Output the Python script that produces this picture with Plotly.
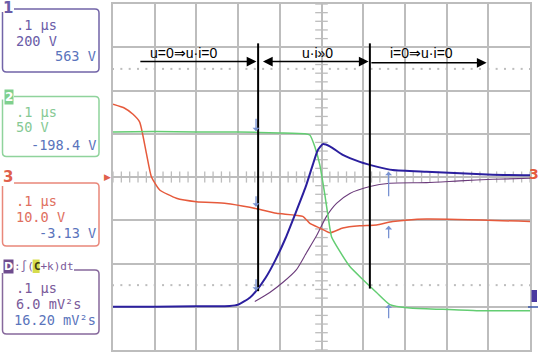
import plotly.graph_objects as go
import numpy as np

# ---------------- data (time in µs, amplitude in screen divisions) ----------------
t_ch1 = [-0.50, -0.40, -0.30, -0.22, -0.20, -0.172, -0.158, -0.134, -0.110, -0.086, -0.062,
         -0.038, -0.021, -0.009, 0.003, 0.020, 0.051, 0.092, 0.132, 0.171, 0.252, 0.332,
         0.411, 0.50]
v_ch1 = [-3.00, -3.00, -2.99, -2.98, -2.95, -2.79, -2.65, -2.33, -1.91, -1.41, -0.83,
         -0.23, 0.28, 0.62, 0.76, 0.71, 0.51, 0.35, 0.24, 0.16, 0.12, 0.085, 0.05, 0.04]

t_ch2 = [-0.50, -0.40, -0.30, -0.20, -0.10, -0.04, -0.028, -0.016, -0.004, 0.008, 0.020,
         0.024, 0.044, 0.068, 0.099, 0.132, 0.164, 0.212, 0.291, 0.372, 0.50]
v_ch2 = [1.04, 1.05, 1.04, 1.04, 1.02, 1.00, 0.97, 0.70, 0.28, -0.41, -1.18,
         -1.38, -1.72, -2.07, -2.37, -2.67, -2.95, -3.03, -3.06, -3.09, -3.09]

t_ch3 = [-0.50, -0.472, -0.452, -0.436, -0.420, -0.408, -0.388, -0.348, -0.300, -0.228,
         -0.172, -0.153, -0.108, -0.045, -0.028, -0.004, 0.020, 0.051, 0.092, 0.132,
         0.171, 0.252, 0.50]
v_ch3 = [1.68, 1.59, 1.45, 1.27, 0.55, 0.007, -0.30, -0.49, -0.57, -0.61,
         -0.70, -0.74, -0.84, -0.91, -1.07, -1.18, -1.29, -1.18, -1.13, -1.11,
         -1.03, -0.97, -1.03]

t_math = [-0.160, -0.124, -0.093, -0.060, -0.036, -0.012, 0.012, 0.036, 0.068, 0.116,
          0.164, 0.252, 0.331, 0.411, 0.50]
v_math = [-2.88, -2.67, -2.44, -2.14, -1.75, -1.36, -0.91, -0.61, -0.38, -0.22,
          -0.145, -0.13, -0.09, -0.053, -0.03]

cursor_t = [-0.152, 0.116]
cursor_top = 3.09
cursor_bottom = [-2.64, -2.58]

region_labels = ["u=0⇒u·i=0", "u·i»0", "i=0⇒u·i=0"]
region_label_t = [-0.332, -0.009, 0.240]

ch_boxes = [
    ("1", [".1 µs", "200 V"], "563 V"),
    ("2", [".1 µs", "50 V"], "-198.4 V"),
    ("3", [".1 µs", "10.0 V"], "-3.13 V"),
    ("D", [".1 µs", "6.0 mV²s"], "16.20 mV²s"),
]
math_header = ":∫(<span style='color:#3c3c10'><b>C</b></span>+k)dt"

# ---------------- colours ----------------
C1 = "#2b1f9e"
C2 = "#63cd72"
C3 = "#e65a3c"
CM = "#6b3b7b"
GRID = "#bdbdbd"
MARK = "#7892d2"
VAL = "#5a74bc"

fig = go.Figure()

# graticule helpers (centre-axis minor ticks and dotted 2.5-div lines)
minor_x = np.round(np.arange(-0.5, 0.5001, 0.02), 3)
minor_y = np.round(np.arange(-4, 4.001, 0.2), 3)
fig.add_trace(go.Scatter(x=minor_x, y=[0] * len(minor_x), mode="markers",
                         marker=dict(symbol="line-ns", size=8, line=dict(color=GRID, width=1.3)),
                         hoverinfo="skip"))
fig.add_trace(go.Scatter(x=[0] * len(minor_y), y=minor_y, mode="markers",
                         marker=dict(symbol="line-ew", size=9, line=dict(color=GRID, width=1.3)),
                         hoverinfo="skip"))
for yy in (2.5, -2.5):
    fig.add_trace(go.Scatter(x=minor_x, y=[yy] * len(minor_x), mode="markers",
                             marker=dict(symbol="square", size=2, color="#bdbdbd"),
                             hoverinfo="skip"))

# waveforms
fig.add_trace(go.Scatter(x=t_math, y=v_math, mode="lines",
                         line=dict(color=CM, width=1.1, shape="spline", smoothing=0.6)))
fig.add_trace(go.Scatter(x=t_ch3, y=v_ch3, mode="lines",
                         line=dict(color=C3, width=1.5, shape="spline", smoothing=0.5)))
fig.add_trace(go.Scatter(x=t_ch2, y=v_ch2, mode="lines",
                         line=dict(color=C2, width=1.5, shape="spline", smoothing=0.5)))
fig.add_trace(go.Scatter(x=t_ch1, y=v_ch1, mode="lines",
                         line=dict(color=C1, width=2, shape="spline", smoothing=0.5)))

shapes = []
annotations = []

# cursors
for tc, yb in zip(cursor_t, cursor_bottom):
    shapes.append(dict(type="line", xref="x", yref="y", x0=tc, x1=tc, y0=yb, y1=cursor_top,
                       line=dict(color="black", width=2)))

# region arrows
def arrow(x_head, x_tail, y, both=False):
    annotations.append(dict(x=x_head, y=y, ax=x_tail, ay=y, xref="x", yref="y",
                            axref="x", ayref="y", text="", showarrow=True,
                            arrowhead=2, arrowsize=1.3, arrowwidth=1.5, arrowcolor="black",
                            arrowside="end+start" if both else "end"))

arrow(-0.156, -0.438, 2.67)
arrow(0.113, -0.144, 2.67, both=True)
arrow(0.396, 0.116, 2.64)
for txt, tt in zip(region_labels, region_label_t):
    annotations.append(dict(x=tt, y=2.87, xref="x", yref="y", text=txt, showarrow=False,
                            xanchor="center", yanchor="middle",
                            font=dict(family="Liberation Sans, Arial", size=14, color="black")))

# measurement marker arrows (tail -> head)
def marker_arrow(tt, y_tail, y_head):
    annotations.append(dict(x=tt, y=y_head, ax=tt, ay=y_tail, xref="x", yref="y",
                            axref="x", ayref="y", text="", showarrow=True,
                            arrowhead=1, arrowsize=0.9, arrowwidth=1.3, arrowcolor=MARK))

marker_arrow(-0.157, 1.38, 1.06)
marker_arrow(-0.157, -0.41, -0.69)
marker_arrow(-0.157, -2.33, -2.63)
marker_arrow(0.161, -0.48, 0.12)
marker_arrow(0.161, -1.45, -1.13)
marker_arrow(0.161, -3.30, -2.95)

# ---------------- side panels (pixel -> paper helpers) ----------------
def PX(p):
    return (p - 113) / 417.0

def PY(p):
    return (350 - p) / 346.0

def box_path(x0, y0, x1, y1, gap_end, r=4):
    pts = []
    pts.append("M %f,%f" % (PX(gap_end), PY(y0)))
    pts.append("L %f,%f" % (PX(x1 - r), PY(y0)))
    pts.append("Q %f,%f %f,%f" % (PX(x1), PY(y0), PX(x1), PY(y0 + r)))
    pts.append("L %f,%f" % (PX(x1), PY(y1 - r)))
    pts.append("Q %f,%f %f,%f" % (PX(x1), PY(y1), PX(x1 - r), PY(y1)))
    pts.append("L %f,%f" % (PX(x0 + r), PY(y1)))
    pts.append("Q %f,%f %f,%f" % (PX(x0), PY(y1), PX(x0), PY(y1 - r)))
    pts.append("L %f,%f" % (PX(x0), PY(y0 + 3)))
    return " ".join(pts)

box_geom = [  # (top, bottom, gap_end, border colour, text colour, rows y)
    (9, 72, 14, "#7264a8", "#6a5ca8", [25, 40.5, 56]),
    (96.5, 156.5, 14, "#8fd39c", "#86c994", [112, 127.5, 144.5]),
    (183, 246, 14, "#e9877a", "#e0705f", [201.5, 217, 232.5]),
    (270, 334, 74, "#86689c", "#7a5a9a", [288, 303.5, 320]),
]

MONO = "DejaVu Sans Mono"
for (lab, rows, val), (top, bot, gap, bc, tc, rys) in zip(ch_boxes, box_geom):
    shapes.append(dict(type="path", xref="paper", yref="paper", path=box_path(2.5, top, 99, bot, gap),
                       line=dict(color=bc, width=1.5)))
    for txt, ry in zip(rows, rys[:2]):
        annotations.append(dict(x=PX(14), y=PY(ry), xref="paper", yref="paper", text=txt,
                                showarrow=False, xanchor="left", yanchor="middle",
                                font=dict(family=MONO, size=13.6, color=tc)))
    annotations.append(dict(x=PX(97.5), y=PY(rys[2]), xref="paper", yref="paper", text=val,
                            showarrow=False, xanchor="right", yanchor="middle",
                            font=dict(family=MONO, size=13.6, color=VAL)))

def paper_text(px, py, text, size, color, family="DejaVu Sans", anchor="center", **kw):
    annotations.append(dict(x=PX(px), y=PY(py), xref="paper", yref="paper", text=text,
                            showarrow=False, xanchor=anchor, yanchor="middle",
                            font=dict(family=family, size=size, color=color), **kw))

# channel labels
paper_text(8, 8, "<b>1</b>", 15, "#6a5ca8")
paper_text(9, 97, "<b>2</b>", 12, "white", bgcolor="#7fd08e", borderpad=0)
paper_text(8, 177.5, "<b>3</b>", 15, "#e0604c")
paper_text(8.5, 266, "<b>D</b>", 11, "white", bgcolor="#6e4c8e", borderpad=0)
# yellow highlight behind the "C" of the math header
shapes.append(dict(type="rect", xref="paper", yref="paper", x0=PX(32.6), x1=PX(39.6),
                   y0=PY(273), y1=PY(259.5), fillcolor="#d6dc4c", line=dict(width=0)))
paper_text(13, 266, math_header, 11, "#7a5a9a", family=MONO, anchor="left", borderpad=0)

# ground / reference markers at screen edges
paper_text(107.5, 177, "▶", 9, "#e0604c")
paper_text(534, 174, "<b>3</b>", 14, "#e65a3c")
shapes.append(dict(type="rect", xref="paper", yref="paper", x0=PX(531.5), x1=PX(537),
                   y0=PY(302), y1=PY(290), fillcolor="#4a3aa0", line=dict(width=0)))
shapes.append(dict(type="line", xref="paper", yref="paper", x0=PX(528), x1=PX(538),
                   y0=PY(307), y1=PY(307), line=dict(color="#3a56a8", width=1.5)))

axis_common = dict(showgrid=True, gridcolor=GRID, gridwidth=1.5, zeroline=False,
                   showticklabels=False, ticks="", showline=True, mirror=True,
                   linecolor=GRID, linewidth=1.5, fixedrange=True)
fig.update_layout(
    width=540, height=353,
    margin=dict(l=113, r=10, t=4, b=3),
    paper_bgcolor="white", plot_bgcolor="white",
    showlegend=False,
    xaxis=dict(range=[-0.5, 0.5], dtick=0.1, tick0=0, **axis_common),
    yaxis=dict(range=[-4, 4], dtick=1, tick0=0, **axis_common),
    shapes=shapes,
    annotations=annotations,
)

fig.write_html("out.html", config={"displayModeBar": False})
